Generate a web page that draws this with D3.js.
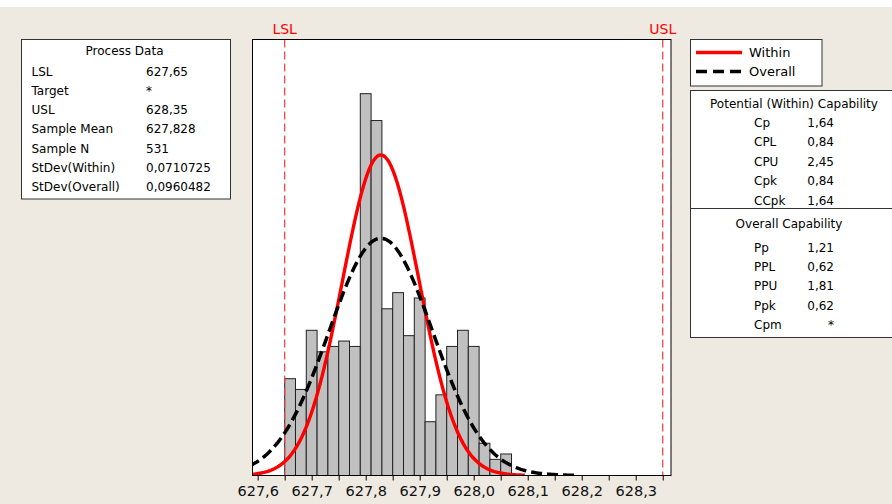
<!DOCTYPE html>
<html>
<head>
<meta charset="utf-8">
<script src="https://cdn.jsdelivr.net/npm/d3@7"></script>
<style>
  body { margin: 0; background: #EEEAE1; }
  svg { display: block; font-family: "DejaVu Sans", Verdana, sans-serif; }
</style>
</head>
<body>
<svg id="chart" width="892" height="504"></svg>
<script>
// histogram bins (lower edge) and counts
var binLower = [627.65, 627.67, 627.69, 627.71, 627.73, 627.75, 627.77, 627.79, 627.81, 627.83,
                627.85, 627.87, 627.89, 627.91, 627.93, 627.95, 627.97, 627.99, 628.01, 628.03, 628.05];
var binCounts = [18, 16, 27, 23, 24, 25, 24, 71, 66, 31, 34, 26, 33, 10, 15, 24, 27, 24, 6, 3, 4];
var binWidth = 0.02;

// process data
var LSL = 627.65, USL = 628.35, sampleMean = 627.828, sampleN = 531;
var sdWithin = 0.0710725, sdOverall = 0.0960482;
var processLabels = ["LSL", "Target", "USL", "Sample Mean", "Sample N", "StDev(Within)", "StDev(Overall)"];
var processValues = ["627,65", "*", "628,35", "627,828", "531", "0,0710725", "0,0960482"];

var withinLabels = ["Cp", "CPL", "CPU", "Cpk", "CCpk"];
var withinValues = ["1,64", "0,84", "2,45", "0,84", "1,64"];
var overallLabels = ["Pp", "PPL", "PPU", "Ppk", "Cpm"];
var overallValues = ["1,21", "0,62", "1,81", "0,62", "*"];

var majorTicks = [627.6, 627.7, 627.8, 627.9, 628.0, 628.1, 628.2, 628.3];
var minorTicks = [627.65, 627.75, 627.85, 627.95, 628.05, 628.15, 628.25, 628.35];

var PLOT = { left: 252.5, right: 671, top: 39.5, bottom: 475.5 };

var svg = d3.select("#chart");
svg.append("rect").attr("width", 892).attr("height", 7).attr("fill", "#fff");

var x = d3.scaleLinear().domain([627.5904, 628.3653]).range([PLOT.left, PLOT.right]);
var y = d3.scaleLinear().domain([0, 81.07]).range([PLOT.bottom, PLOT.top]);
var fmt = d3.formatLocale({ decimal: ",", thousands: ".", grouping: [3], currency: ["", ""] }).format(".1f");

svg.append("defs").append("clipPath").attr("id", "plotclip")
  .append("rect")
  .attr("x", PLOT.left).attr("y", PLOT.top)
  .attr("width", PLOT.right - PLOT.left).attr("height", PLOT.bottom - PLOT.top);

svg.append("rect")
  .attr("x", PLOT.left).attr("y", PLOT.top)
  .attr("width", PLOT.right - PLOT.left).attr("height", PLOT.bottom - PLOT.top)
  .attr("fill", "#fff");

// bars
svg.append("g").selectAll("rect")
  .data(binCounts)
  .enter().append("rect")
  .attr("x", function (d, i) { return x(binLower[i]); })
  .attr("width", function (d, i) { return x(binLower[i] + binWidth) - x(binLower[i]); })
  .attr("y", function (d) { return y(d); })
  .attr("height", function (d) { return y(0) - y(d); })
  .attr("fill", "#C0C0C0")
  .attr("stroke", "#222")
  .attr("stroke-width", 1);

// spec limits
[[LSL, "LSL"], [USL, "USL"]].forEach(function (s) {
  svg.append("line")
    .attr("x1", x(s[0])).attr("x2", x(s[0]))
    .attr("y1", PLOT.top).attr("y2", PLOT.bottom)
    .attr("stroke", "#F23A3A").attr("stroke-width", 1.2)
    .attr("stroke-dasharray", "8,4");
  svg.append("text")
    .attr("x", x(s[0])).attr("y", 29)
    .attr("dy", "0.35em")
    .attr("text-anchor", "middle")
    .attr("font-size", 14).attr("fill", "#F00")
    .text(s[1]);
});

// fitted normal curves, scaled to counts
function normalCurve(mu, sd) {
  var pts = [];
  var lo = mu - 3.75 * sd, hi = mu + 3.75 * sd;
  for (var i = 0; i <= 200; i++) {
    var v = lo + (hi - lo) * i / 200;
    var z = (v - mu) / sd;
    pts.push([v, sampleN * binWidth * Math.exp(-0.5 * z * z) / (sd * Math.sqrt(2 * Math.PI))]);
  }
  return pts;
}
var line = d3.line().x(function (d) { return x(d[0]); }).y(function (d) { return y(d[1]); });
var curves = svg.append("g").attr("clip-path", "url(#plotclip)");
curves.append("path")
  .attr("d", line(normalCurve(sampleMean, sdWithin)))
  .attr("fill", "none").attr("stroke", "#F00").attr("stroke-width", 3.4);
curves.append("path")
  .attr("d", line(normalCurve(sampleMean, sdOverall)))
  .attr("fill", "none").attr("stroke", "#000").attr("stroke-width", 3.5)
  .attr("stroke-dasharray", "11,5");

// plot border
svg.append("rect")
  .attr("x", PLOT.left).attr("y", PLOT.top)
  .attr("width", PLOT.right - PLOT.left).attr("height", PLOT.bottom - PLOT.top)
  .attr("fill", "none").attr("stroke", "#000").attr("stroke-width", 1);

// x axis
var axis = svg.append("g").attr("transform", "translate(0," + PLOT.bottom + ")")
  .call(d3.axisBottom(x).tickValues(majorTicks).tickSize(5).tickPadding(5).tickFormat(fmt));
axis.select(".domain").remove();
axis.selectAll("text").attr("font-size", 14.5).attr("font-family", "DejaVu Sans").attr("fill", "#111");
svg.append("g").attr("transform", "translate(0," + PLOT.bottom + ")")
  .call(d3.axisBottom(x).tickValues(minorTicks).tickSize(5).tickFormat(""))
  .select(".domain").remove();

// process data box
var pd = svg.append("g").attr("font-size", 12).attr("fill", "#000");
pd.append("rect").attr("x", 21.5).attr("y", 39.5).attr("width", 209).attr("height", 159.5)
  .attr("fill", "#fff").attr("stroke", "#333");
pd.append("text").attr("x", 124.5).attr("y", 51).attr("dy", "0.35em")
  .attr("text-anchor", "middle").text("Process Data");
processLabels.forEach(function (l, i) {
  pd.append("text").attr("x", 31.5).attr("y", 71.5 + i * 19.2).attr("dy", "0.35em").text(l);
  pd.append("text").attr("x", 146).attr("y", 71.5 + i * 19.2).attr("dy", "0.35em").text(processValues[i]);
});

// legend
var lg = svg.append("g").attr("font-size", 13);
lg.append("rect").attr("x", 690.5).attr("y", 39.5).attr("width", 131.5).attr("height", 46.5)
  .attr("fill", "#fff").attr("stroke", "#333");
lg.append("line").attr("x1", 696).attr("x2", 742).attr("y1", 52.5).attr("y2", 52.5)
  .attr("stroke", "#F00").attr("stroke-width", 3.4);
lg.append("line").attr("x1", 696).attr("x2", 742).attr("y1", 71.5).attr("y2", 71.5)
  .attr("stroke", "#000").attr("stroke-width", 3.5).attr("stroke-dasharray", "11,6");
lg.append("text").attr("x", 749).attr("y", 52).attr("dy", "0.35em").text("Within");
lg.append("text").attr("x", 749).attr("y", 71.5).attr("dy", "0.35em").text("Overall");

// capability box
var cb = svg.append("g").attr("font-size", 12);
cb.append("rect").attr("x", 690.5).attr("y", 90.5).attr("width", 210).attr("height", 247)
  .attr("fill", "#fff").attr("stroke", "#333");
cb.append("line").attr("x1", 690.5).attr("x2", 900).attr("y1", 208.5).attr("y2", 208.5)
  .attr("stroke", "#333");
cb.append("text").attr("x", 794).attr("y", 103.3).attr("dy", "0.35em")
  .attr("text-anchor", "middle").text("Potential (Within) Capability");
withinLabels.forEach(function (l, i) {
  cb.append("text").attr("x", 754).attr("y", 122.7 + i * 19.5).attr("dy", "0.35em").text(l);
  cb.append("text").attr("x", 834).attr("y", 122.7 + i * 19.5).attr("dy", "0.35em")
    .attr("text-anchor", "end").text(withinValues[i]);
});
cb.append("text").attr("x", 789).attr("y", 224).attr("dy", "0.35em")
  .attr("text-anchor", "middle").text("Overall Capability");
overallLabels.forEach(function (l, i) {
  cb.append("text").attr("x", 754).attr("y", 247.3 + i * 19.4).attr("dy", "0.35em").text(l);
  cb.append("text").attr("x", 834).attr("y", 247.3 + i * 19.4).attr("dy", "0.35em")
    .attr("text-anchor", "end").text(overallValues[i]);
});
</script>
</body>
</html>
